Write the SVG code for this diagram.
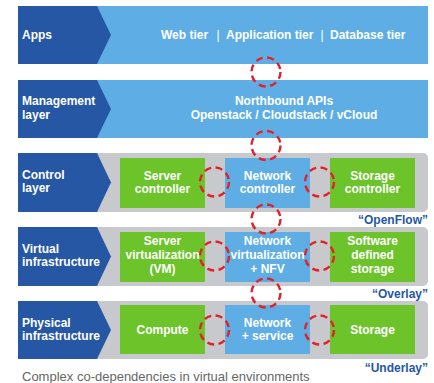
<svg xmlns="http://www.w3.org/2000/svg" width="434" height="383" viewBox="0 0 434 383">
<style>
.lbl{fill:#fff;font-family:"Liberation Sans",Arial,sans-serif;font-weight:bold;font-size:12px}
.ctr{text-anchor:middle}
.sep{fill:#fff;font-family:"Liberation Sans",Arial,sans-serif;font-size:12px;text-anchor:middle}
.dark{fill:#2557a4}
.light{fill:#5eaee5}
.green{fill:#6dc32a}
.gray{fill:#c7c9cc}
.ring{fill:none;stroke:#e3212b;stroke-width:2.4;stroke-dasharray:7,4.5}
.tag{fill:#2557a4;font-family:"Liberation Sans",Arial,sans-serif;font-weight:bold;font-size:12px;text-anchor:end}
</style>
<rect width="434" height="383" fill="#fff"/>
<g id="apps">
<rect class="light" x="90" y="6" width="338" height="58"/>
<polygon class="dark" points="18,6 97,6 111,35 97,64 18,64"/>
<text class="lbl" x="22" y="39">Apps</text>
<text class="lbl" x="161" y="39">Web tier</text>
<text class="sep" x="218" y="39">|</text>
<text class="lbl" x="226" y="39">Application tier</text>
<text class="sep" x="322" y="39">|</text>
<text class="lbl" x="330" y="39">Database tier</text>
</g>
<g id="management">
<rect class="light" x="90" y="80" width="338" height="58"/>
<polygon class="dark" points="18,80 97,80 111,109 97,138 18,138"/>
<text class="lbl" x="22" y="105">Management</text>
<text class="lbl" x="22" y="118.5">layer</text>
<text class="lbl ctr" x="284" y="105">Northbound APIs</text>
<text class="lbl ctr" x="284" y="118.5">Openstack / Cloudstack / vCloud</text>
</g>
<g id="control">
<rect class="gray" x="90" y="153" width="338" height="59" rx="5"/>
<polygon class="dark" points="18,153 97,153 111,182.5 97,212 18,212"/>
<text class="lbl" x="22" y="179">Control</text>
<text class="lbl" x="22" y="192">layer</text>
<rect class="green" x="120" y="158" width="85" height="50"/>
<text class="lbl ctr" x="162.5" y="179.5">Server</text>
<text class="lbl ctr" x="162.5" y="192.5">controller</text>
<rect class="light" x="225" y="158" width="85" height="50"/>
<text class="lbl ctr" x="267.5" y="179.5">Network</text>
<text class="lbl ctr" x="267.5" y="192.5">controller</text>
<rect class="green" x="330" y="158" width="85" height="50"/>
<text class="lbl ctr" x="372.5" y="179.5">Storage</text>
<text class="lbl ctr" x="372.5" y="192.5">controller</text>
<text class="tag" x="428" y="224">“OpenFlow”</text>
</g>
<g id="virtual">
<rect class="gray" x="90" y="227" width="338" height="59" rx="5"/>
<polygon class="dark" points="18,227 97,227 111,256.5 97,286 18,286"/>
<text class="lbl" x="22" y="253">Virtual</text>
<text class="lbl" x="22" y="266">infrastructure</text>
<rect class="green" x="120" y="232" width="85" height="50"/>
<text class="lbl ctr" x="162.5" y="245">Server</text>
<text class="lbl ctr" x="162.5" y="259">virtualization</text>
<text class="lbl ctr" x="162.5" y="272.5">(VM)</text>
<rect class="light" x="225" y="232" width="85" height="50"/>
<text class="lbl ctr" x="267.5" y="245">Network</text>
<text class="lbl ctr" x="267.5" y="259">virtualization</text>
<text class="lbl ctr" x="267.5" y="272.5">+ NFV</text>
<rect class="green" x="330" y="232" width="85" height="50"/>
<text class="lbl ctr" x="372.5" y="245">Software</text>
<text class="lbl ctr" x="372.5" y="259">defined</text>
<text class="lbl ctr" x="372.5" y="272.5">storage</text>
<text class="tag" x="428" y="298">“Overlay”</text>
</g>
<g id="physical">
<rect class="gray" x="90" y="301" width="338" height="58" rx="5"/>
<polygon class="dark" points="18,301 97,301 111,330 97,359 18,359"/>
<text class="lbl" x="22" y="327">Physical</text>
<text class="lbl" x="22" y="340">infrastructure</text>
<rect class="green" x="120" y="305" width="85" height="49"/>
<text class="lbl ctr" x="162.5" y="334">Compute</text>
<rect class="light" x="225" y="305" width="85" height="49"/>
<text class="lbl ctr" x="267.5" y="327">Network</text>
<text class="lbl ctr" x="267.5" y="340">+ service</text>
<rect class="green" x="330" y="305" width="85" height="49"/>
<text class="lbl ctr" x="372.5" y="334">Storage</text>
<text class="tag" x="428" y="372">“Underlay”</text>
</g>
<g id="connectors">
<circle class="ring" cx="266" cy="72" r="14.5"/>
<circle class="ring" cx="266" cy="145.5" r="14.5"/>
<circle class="ring" cx="266" cy="219" r="14.5"/>
<circle class="ring" cx="266" cy="293" r="14.5"/>
<circle class="ring" cx="214.5" cy="182" r="14.5"/>
<circle class="ring" cx="319.5" cy="182" r="14.5"/>
<circle class="ring" cx="214.5" cy="256" r="14.5"/>
<circle class="ring" cx="319.5" cy="256" r="14.5"/>
<circle class="ring" cx="214.5" cy="330" r="14.5"/>
<circle class="ring" cx="319.5" cy="330" r="14.5"/>
</g>
<text x="22" y="381" fill="#666" font-family="'Liberation Sans',Arial,sans-serif" font-size="13">Complex co-dependencies in virtual environments</text>
</svg>
